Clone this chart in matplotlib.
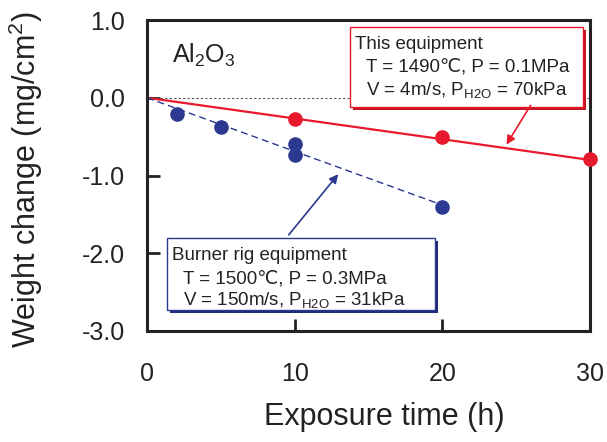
import matplotlib
matplotlib.use("Agg")
import matplotlib.pyplot as plt
from matplotlib.transforms import Affine2D

plt.rcParams['font.family'] = ['Liberation Sans', 'DejaVu Sans']
plt.rcParams['mathtext.fontset'] = 'custom'
plt.rcParams['mathtext.rm'] = 'Liberation Sans'
plt.rcParams['mathtext.it'] = 'Liberation Sans'

red_t = [10, 20, 30]
red_w = [-0.27, -0.51, -0.79]
red_fit_t = [0, 30]
red_fit_w = [0.0, -0.80]

blue_t = [2, 5, 10, 10, 20]
blue_w = [-0.21, -0.38, -0.59, -0.73, -1.40]
blue_fit_t = [0, 20]
blue_fit_w = [0.0, -1.38]

xticks = [0, 10, 20, 30]
yticks = [1.0, 0.0, -1.0, -2.0, -3.0]

RED = '#e8192c'
RED_SH = '#c4121f'
BLUE = '#2b3990'
BLUE_SH = '#1f2a75'

W, H = 607, 442
fig = plt.figure(figsize=(W / 100, H / 100), dpi=100)
pix = Affine2D().scale(1 / W, -1 / H).translate(0, 1) + fig.transFigure

ax = fig.add_axes([147 / W, 1 - 331 / H, (590 - 147) / W, (331 - 20) / H])

ax.plot([0, 30], [0, 0], linestyle=(0, (2, 2)), color='#555555', lw=0.8, zorder=1)
ax.plot(red_fit_t, red_fit_w, color=RED, lw=1.6, zorder=2)
ax.plot(blue_fit_t, blue_fit_w, color=BLUE, lw=1.0, linestyle=(0, (5, 3)), zorder=2)
ax.plot(red_t, red_w, 'o', color=RED, ms=9.5, zorder=3, clip_on=False)
ax.plot(blue_t, blue_w, 'o', color=BLUE, ms=9.5, zorder=3, clip_on=False)

ax.set_xlim(0, 30)
ax.set_ylim(-3, 1)
ax.set_xticks(xticks)
ax.set_yticks(yticks)
ax.set_yticklabels([f"{v:.1f}" for v in yticks])
ax.tick_params(direction='in', length=9, width=2, labelsize=18, colors='#222222')
ax.tick_params(axis='y', pad=16)
ax.tick_params(axis='x', pad=22)
for s in ax.spines.values():
    s.set_linewidth(2.2)
    s.set_color('#222222')

ax.set_xlabel('Exposure time (h)', fontsize=22, color='#222222', va='center')
ax.set_ylabel('Weight change (mg/cm$^2$)', fontsize=22, color='#222222', va='center')
ax.xaxis.set_label_coords((384 - 147) / 443, (331 - 417) / 311)
ax.yaxis.set_label_coords((26 - 147) / 443, (331 - 180) / 311)

fig.text(172, 63, 'Al$_2$O$_3$', transform=pix, fontsize=18, ha='left',
         va='baseline', color='#222222')


def box(x0, y0, x1, y1, ec, sh):
    fig.add_artist(plt.Rectangle((x0 + 3, y1 + 3), x1 - x0, y0 - y1, transform=pix,
                                 fc=sh, ec='none', zorder=4))
    fig.add_artist(plt.Rectangle((x0, y1), x1 - x0, y0 - y1, transform=pix,
                                 fc='white', ec=ec, lw=1.0, zorder=5))


box(350, 27, 583, 107, RED, RED_SH)
box(167, 238, 435, 310, BLUE, BLUE_SH)

red_lines = ["This equipment",
             "T = 1490\u2103, P = 0.1MPa",
             "V = 4m/s, P$_{\\mathregular{H2O}}$ = 70kPa"]
red_pos = [(355, 49), (366, 72), (366, 95)]
blue_lines = ["Burner rig equipment",
              "T = 1500\u2103, P = 0.3MPa",
              "V = 150m/s, P$_{\\mathregular{H2O}}$ = 31kPa"]
blue_pos = [(172, 260), (183, 283), (183, 305)]
for txt, (x, y) in zip(red_lines + blue_lines, red_pos + blue_pos):
    fig.text(x, y, txt, transform=pix, fontsize=13.5, ha='left', va='baseline',
             color='#222222', zorder=6)

fig.add_artist(matplotlib.patches.FancyArrowPatch((532, 103), (505, 147), transform=pix,
               arrowstyle='-|>', mutation_scale=13, color=RED, lw=1.2, zorder=6))
fig.add_artist(matplotlib.patches.FancyArrowPatch((287, 237), (340, 172), transform=pix,
               arrowstyle='-|>', mutation_scale=13, color=BLUE, lw=1.2, zorder=6))

fig.savefig('out.png', dpi=100)
